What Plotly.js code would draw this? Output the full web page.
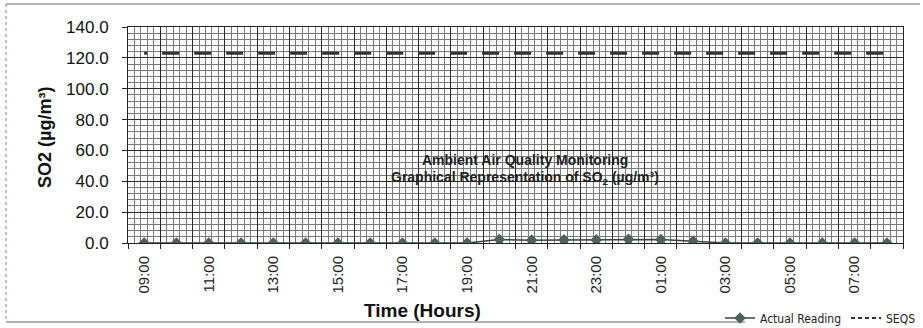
<!DOCTYPE html>
<html>
<head>
<meta charset="utf-8">
<script src="https://cdn.plot.ly/plotly-3.0.1.min.js"></script>
<style>html,body{margin:0;padding:0;background:#fff;overflow:hidden;}#chart{width:923px;height:328px;}</style>
</head>
<body>
<div id="chart"></div>
<script>
// ---- data ----
const hours = ['09:00','10:00','11:00','12:00','13:00','14:00','15:00','16:00','17:00','18:00','19:00','20:00',
               '21:00','22:00','23:00','00:00','01:00','02:00','03:00','04:00','05:00','06:00','07:00','08:00'];
const actualReading = [0.0,0.0,0.0,0.0,0.0,0.0,0.0,0.0,0.0,0.0,0.0,2.2,
                       1.8,2.0,2.0,2.4,2.2,1.2,0.0,0.0,0.0,0.0,0.0,0.0];
const seqs = [123,123,123,123,123,123,123,123,123,123,123,123,
              123,123,123,123,123,123,123,123,123,123,123,123];
const tickLabels = ['09:00','11:00','13:00','15:00','17:00','19:00','21:00','23:00','01:00','03:00','05:00','07:00'];
const yTitle = 'SO2 (µg/m³)';
const xTitle = 'Time (Hours)';
const chartTitle = ['Ambient Air Quality Monitoring', 'Graphical Representation of SO<sub>2</sub> (µg/m³)'];

const FONT = 'Liberation Sans, Arial, sans-serif';
const NARROW = 'Liberation Sans Narrow, DejaVu Sans Condensed, Arial Narrow, sans-serif';

const traces = [
  {
    x: hours, y: seqs, name: 'SEQS', type: 'scatter', mode: 'lines',
    line: {color: '#333333', width: 3, dash: '3px,15px,14px,0px'},
    showlegend: false, hoverinfo: 'skip'
  },
  {
    x: hours, y: actualReading, name: 'Actual Reading', type: 'scatter', mode: 'lines+markers',
    line: {color: '#35443d', width: 1.5},
    marker: {symbol: 'diamond', size: 9, color: '#4f6259'}
  },
  {
    // legend entry for SEQS (no data points), lives on the grid axis
    x: [null], y: [null], xaxis: 'x2', yaxis: 'y', name: 'SEQS', type: 'scatter', mode: 'lines',
    line: {color: '#333333', width: 2, dash: '4px,3px'}, hoverinfo: 'skip'
  }
];

const px2x = p => (p - 128) / 775;
const px2y = p => (243 - p) / 216;

const layout = {
  width: 923, height: 328,
  margin: {l: 128, r: 20, t: 27, b: 85, autoexpand: false},
  paper_bgcolor: '#ffffff', plot_bgcolor: '#ffffff',
  font: {family: FONT, color: '#111'},
  showlegend: true,
  xaxis: {
    type: 'category', range: [-0.5, 23.5], automargin: false,
    tickmode: 'array', tickvals: tickLabels, ticktext: tickLabels,
    tickangle: -90, ticks: '', showgrid: false, zeroline: false, ticklabelstandoff: 6,
    showline: true, mirror: true, linecolor: '#222', linewidth: 1,
    tickfont: {family: FONT, size: 15, color: '#222'}
  },
  xaxis2: {
    type: 'linear', overlaying: 'x', anchor: 'y', side: 'bottom', automargin: false,
    range: [-0.5, 23.5], tickmode: 'linear', tick0: -0.5, dtick: 1,
    ticks: 'outside', ticklen: 5, tickcolor: '#222', showticklabels: false,
    showgrid: true, gridcolor: '#2a2a2a', gridwidth: 1, zeroline: false, showline: false,
    minor: {tick0: -0.5, dtick: 0.2, showgrid: true, gridcolor: '#7a7a7a', gridwidth: 1, ticks: ''}
  },
  yaxis: {
    range: [0, 140], tickmode: 'linear', tick0: 0, dtick: 20, tickformat: '.1f', automargin: false,
    ticks: 'outside', ticklen: 5, tickcolor: '#222', ticklabelstandoff: 10,
    showline: true, mirror: true, linecolor: '#222', linewidth: 1,
    showgrid: true, gridcolor: '#2a2a2a', gridwidth: 1, zeroline: false,
    minor: {dtick: 4, showgrid: true, gridcolor: '#7a7a7a', gridwidth: 1, ticks: ''},
    tickfont: {family: FONT, size: 17, color: '#111'}
  },
  legend: {
    orientation: 'h', xref: 'container', yref: 'container',
    x: 921 / 923, xanchor: 'right', y: (328 - 318) / 328, yanchor: 'middle',
    font: {family: NARROW, size: 12, color: '#222'}, itemwidth: 30,
    bgcolor: 'rgba(0,0,0,0)', traceorder: 'normal'
  },
  annotations: [
    {
      xref: 'paper', yref: 'paper', x: px2x(525), y: px2y(160), xanchor: 'center', yanchor: 'middle', showarrow: false,
      text: '<b>' + chartTitle[0] + '</b>',
      font: {family: FONT, size: 14, color: '#222'}
    },
    {
      xref: 'paper', yref: 'paper', x: px2x(525), y: px2y(178), xanchor: 'center', yanchor: 'middle', showarrow: false,
      text: '<b>' + chartTitle[1] + '</b>',
      font: {family: FONT, size: 14, color: '#222'}
    },
    {
      xref: 'paper', yref: 'paper', x: px2x(422), y: px2y(310), xanchor: 'center', yanchor: 'middle', showarrow: false,
      text: '<b>' + xTitle + '</b>',
      font: {family: FONT, size: 19, color: '#111'}
    },
    {
      xref: 'paper', yref: 'paper', x: px2x(45), y: px2y(138), xanchor: 'center', yanchor: 'middle', showarrow: false,
      textangle: -90, text: '<b>' + yTitle + '</b>',
      font: {family: FONT, size: 18, color: '#111'}
    }
  ],
  shapes: [
    {type: 'line', xref: 'paper', yref: 'paper', x0: px2x(6), x1: px2x(920), y0: px2y(4), y1: px2y(4), line: {color: '#666', width: 1}},
    {type: 'line', xref: 'paper', yref: 'paper', x0: px2x(6), x1: px2x(6), y0: px2y(4), y1: px2y(322), line: {color: '#6f8a8a', width: 1, dash: 'dot'}},
    {type: 'line', xref: 'paper', yref: 'paper', x0: px2x(6), x1: px2x(745), y0: px2y(322), y1: px2y(322), line: {color: '#666', width: 1}}
  ]
};

Plotly.newPlot('chart', traces, layout, {staticPlot: true, displayModeBar: false});
</script>
</body>
</html>
